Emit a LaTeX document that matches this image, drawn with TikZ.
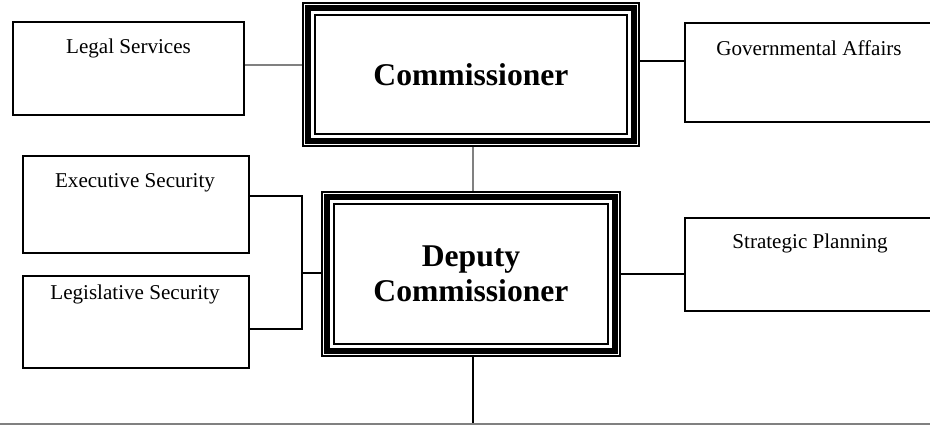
\documentclass[tikz,border=0pt]{standalone}
\usepackage{fontspec}
\setmainfont{Liberation Serif}

\tikzset{
  unit/.style={draw, rectangle, line width=1.1pt, inner sep=0pt},
  unittext/.style={font=\fontsize{12}{14}\selectfont, inner sep=0pt},
  office/.style={draw, rectangle, line width=0.9pt, inner sep=0pt, align=center,
    font=\fontsize{18}{20}\selectfont\bfseries},
  conn/.style={line width=1pt},
  greyconn/.style={line width=1pt, gray}
}

\begin{document}
\begin{tikzpicture}
    \useasboundingbox (0,0) rectangle (18.6,-8.5);
    \clip (0,0) rectangle (18.6,-8.5);

    % Leitung
    \node[office, minimum width=6.72cm, minimum height=2.86cm] (comm) at (9.42,-1.49) {Commissioner};
    \node[office, minimum width=5.96cm, minimum height=3.28cm] (deputy) at (9.42,-5.48) {Deputy\\Commissioner};

    % dreifacher Rahmen
    \foreach \n in {comm,deputy} {
        \draw[line width=3.3pt] ([shift={(0.12,-0.12)}]\n.north west) rectangle ([shift={(-0.12,0.12)}]\n.south east);
        \draw[line width=1.4pt] ([shift={(0.26,-0.26)}]\n.north west) rectangle ([shift={(-0.26,0.26)}]\n.south east);
    }

    % Stabsstellen links
    \node[unit, minimum width=4.62cm, minimum height=1.86cm] (legal) at (2.57,-1.37) {};
    \node[unittext] (legaltxt) at (2.57,-0.96) {Legal Services};

    \node[unit, minimum width=4.52cm, minimum height=1.94cm] (exec) at (2.72,-4.09) {};
    \node[unittext] (exectxt) at (2.7,-3.66) {Executive Security};

    \node[unit, minimum width=4.52cm, minimum height=1.84cm] (legis) at (2.72,-6.44) {};
    \node[unittext] (legistxt) at (2.7,-5.88) {Legislative Security};

    % Stabsstellen rechts
    \node[unit, minimum width=5.0cm, minimum height=1.98cm] (gov) at (16.2,-1.45) {};
    \node[unittext] (govtxt) at (16.18,-0.96) {Governmental Affairs};

    \node[unit, minimum width=5.0cm, minimum height=1.86cm] (strat) at (16.2,-5.29) {};
    \node[unittext] (strattxt) at (16.2,-4.86) {Strategic Planning};

    % Verbindungen
    \draw[greyconn] ([yshift=0.07cm]legal.east) -- ([yshift=0.07cm]legal.east -| comm.west);
    \draw[conn] ([yshift=0.23cm]gov.west) -- ([yshift=0.23cm]gov.west -| comm.east);
    \draw[greyconn] ([xshift=0.04cm]comm.south) -- ([xshift=0.04cm]deputy.north);
    \draw[conn] (deputy.east) -- (deputy.east -| strat.west);

    \coordinate (jn) at (6.04,-5.46);
    \draw[conn] ([yshift=0.17cm]exec.east) -| (jn) |- ([yshift=-0.14cm]legis.east);
    \draw[conn] (jn) -- (jn -| deputy.west);

    \coordinate (down) at (9.46,-8.5);
    \draw[conn] ([xshift=0.04cm]deputy.south) -- (down);
    \draw[greyconn] (0,-8.48) -- (18.6,-8.48);
\end{tikzpicture}
\end{document}
